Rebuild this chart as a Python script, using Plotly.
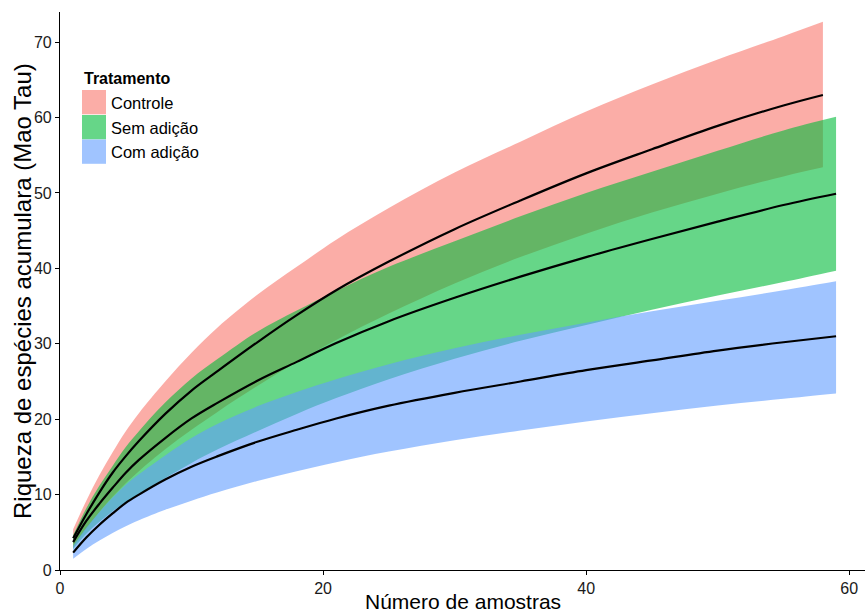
import plotly.graph_objects as go

# ---------------- data ----------------
x_controle = [1, 2, 3, 4, 5, 6, 8, 10, 12, 15, 18, 21, 25, 30, 35, 40, 45, 50, 55, 58]
controle_mean = [4.2, 7.4, 10.3, 12.9, 15.1, 17.1, 20.7, 23.8, 26.4, 30.2, 33.8, 37.1, 40.9, 45.2, 49.0, 52.6, 55.8, 58.9, 61.6, 63.0]
controle_upper = [5.4, 9.2, 12.6, 15.6, 18.4, 20.8, 25.0, 28.8, 32.2, 36.5, 40.2, 43.8, 48.0, 52.7, 56.8, 60.8, 64.4, 67.7, 70.8, 72.7]
controle_lower = [3.0, 5.5, 7.7, 9.7, 11.5, 13.1, 16.0, 18.6, 21.0, 24.4, 27.6, 30.5, 34.0, 38.0, 41.5, 44.6, 47.4, 49.9, 52.2, 53.4]

x_sem = [1, 2, 3, 4, 5, 6, 8, 10, 12, 15, 18, 21, 25, 30, 35, 40, 45, 50, 55, 59]
sem_mean = [3.7, 6.5, 8.8, 10.9, 12.9, 14.6, 17.5, 20.1, 22.2, 25.1, 27.6, 30.1, 33.0, 36.1, 38.9, 41.5, 43.9, 46.2, 48.4, 49.9]
sem_upper = [4.6, 8.2, 11.2, 13.8, 16.3, 18.4, 22.2, 25.4, 28.0, 31.6, 34.4, 37.0, 40.2, 43.6, 46.9, 50.0, 52.8, 55.6, 58.3, 60.1]
sem_lower = [2.8, 4.8, 6.4, 7.8, 9.0, 10.1, 12.2, 14.2, 16.0, 18.4, 20.7, 22.8, 25.3, 28.0, 30.4, 32.5, 34.5, 36.4, 38.2, 39.7]

x_com = [1, 2, 3, 4, 5, 6, 8, 10, 12, 15, 18, 21, 25, 30, 35, 40, 45, 50, 55, 59]
com_mean = [2.3, 4.3, 6.0, 7.5, 8.9, 10.0, 12.0, 13.7, 15.1, 17.0, 18.6, 20.1, 21.8, 23.5, 25.0, 26.5, 27.8, 29.1, 30.2, 31.0]
com_upper = [3.2, 5.6, 7.7, 9.6, 11.3, 12.7, 15.2, 17.5, 19.4, 21.7, 23.6, 25.3, 27.3, 29.4, 31.2, 32.8, 34.3, 35.7, 37.1, 38.3]
com_lower = [1.5, 2.8, 3.9, 4.9, 5.8, 6.6, 8.0, 9.2, 10.3, 11.8, 13.1, 14.3, 15.7, 17.2, 18.5, 19.7, 20.8, 21.8, 22.7, 23.4]

groups = ["Controle", "Sem adição", "Com adição"]
x_ticks = [0, 20, 40, 60]
y_ticks = [0, 10, 20, 30, 40, 50, 60, 70]

series = [
    (x_controle, controle_lower, controle_mean, controle_upper),
    (x_sem, sem_lower, sem_mean, sem_upper),
    (x_com, com_lower, com_mean, com_upper),
]
fills = ["rgba(248,118,109,0.6)", "rgba(0,186,56,0.6)", "rgba(97,156,255,0.6)"]

FONT = "Liberation Sans, Arial, sans-serif"

fig = go.Figure()
for (xs, lo, mu, up), col, name in zip(series, fills, groups):
    fig.add_trace(go.Scatter(x=xs, y=lo, mode="lines", line=dict(width=0, shape="spline", smoothing=1.0),
                             showlegend=False, hoverinfo="skip"))
    fig.add_trace(go.Scatter(x=xs, y=up, mode="lines", line=dict(width=0, shape="spline", smoothing=1.0),
                             fill="tonexty", fillcolor=col, name=name, showlegend=False))
for (xs, lo, mu, up), name in zip(series, groups):
    fig.add_trace(go.Scatter(x=xs, y=mu, mode="lines",
                             line=dict(color="black", width=2.2, shape="spline", smoothing=1.0),
                             name=name, showlegend=False))

# ---------------- layout ----------------
L, R, T, B = 60, 3, 12, 42
W, H = 868, 612
pw, ph = W - L - R, H - T - B

def px(xp):
    return (xp - L) / pw

def py(yp):
    return (H - B - yp) / ph

shapes = []
annotations = []
key_tops = [90, 115, 139.5]
for name, col, top in zip(groups, fills, key_tops):
    shapes.append(dict(type="rect", xref="paper", yref="paper",
                       x0=px(82), x1=px(106), y0=py(top + 24.3), y1=py(top),
                       fillcolor=col, line=dict(width=0), layer="above"))
    annotations.append(dict(text=name, xref="paper", yref="paper", x=px(109), y=py(top + 12.5),
                            xanchor="left", yanchor="middle", showarrow=False,
                            font=dict(family=FONT, size=16.5, color="black")))
annotations.append(dict(text="<b>Tratamento</b>", xref="paper", yref="paper", x=px(82), y=py(78),
                        xanchor="left", yanchor="middle", showarrow=False,
                        font=dict(family=FONT, size=16, color="black")))
annotations.append(dict(text="Número de amostras", xref="paper", yref="paper", x=0.5, y=0,
                        xanchor="center", yanchor="middle", yshift=-31, showarrow=False,
                        font=dict(family=FONT, size=21, color="black")))
annotations.append(dict(text="Riqueza de espécies acumulara (Mao Tau)", xref="paper", yref="paper",
                        x=0, y=0.5, xanchor="center", yanchor="middle", xshift=-38, textangle=-90,
                        showarrow=False, font=dict(family=FONT, size=24, color="black")))

fig.update_layout(
    width=W, height=H,
    margin=dict(l=L, r=R, t=T, b=B),
    paper_bgcolor="white", plot_bgcolor="white",
    showlegend=False,
    shapes=shapes, annotations=annotations,
    xaxis=dict(range=[0, 61.2], tickvals=x_ticks, showgrid=False, zeroline=False,
               showline=True, linecolor="black", linewidth=1.2,
               ticks="outside", ticklen=4, tickcolor="black", tickwidth=1.2,
               tickfont=dict(family=FONT, size=16, color="#1a1a1a")),
    yaxis=dict(range=[0, 74], tickvals=y_ticks, showgrid=False, zeroline=False,
               showline=True, linecolor="black", linewidth=1.2,
               ticks="outside", ticklen=4, tickcolor="black", tickwidth=1.2,
               tickfont=dict(family=FONT, size=16, color="#1a1a1a")),
)

fig.write_html("out.html")
